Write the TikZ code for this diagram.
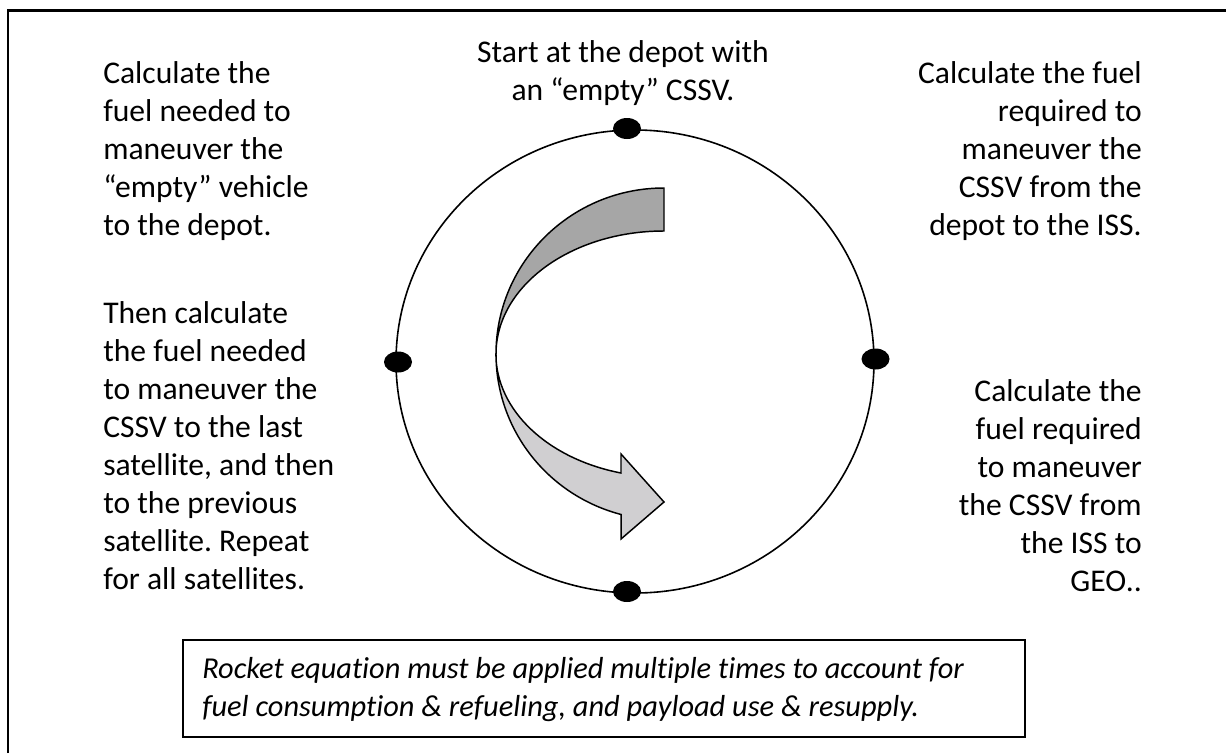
\documentclass[tikz,border=0pt]{standalone}
\usepackage{fontspec}
\setmainfont[Ligatures=NoCommon]{Carlito}
\usetikzlibrary{shapes.geometric}
\definecolor{darkband}{HTML}{A6A6A6}
\definecolor{lightband}{HTML}{D0CFD1}
\frenchspacing
\begin{document}
\begin{tikzpicture}[x=0.75pt,y=-0.75pt,
  txt/.style={inner sep=0pt, font=\fontsize{23.7}{28.5}\selectfont},
  dotnode/.style={ellipse, fill=black, minimum width=21pt, minimum height=15.75pt, inner sep=0pt},
  band/.style={draw=black, line width=1.1pt, line join=miter},
  frame/.style={draw=black, line width=1.6pt}]
\useasboundingbox (0,0) rectangle (1226,753);
% outer frame (top and left edges visible)
\draw[frame] (8,753) -- (8,10.5) -- (1226,10.5);
% orbit
\node[draw, line width=1.2pt, ellipse, minimum width=358.5pt, minimum height=347.25pt, inner sep=0pt] (orbit) at (635,361.5) {};
% dots
\node[dotnode] (dtop) at (627,128.5) {};
\node[dotnode] (dbottom) at (627,591.5) {};
\node[dotnode] (dleft) at (398,362) {};
\node[dotnode] (dright) at (875.5,359) {};
% curved arrow: upper (back) band
\path[band, fill=darkband] (664,188) arc[start angle=270, end angle=180, x radius=168, y radius=166]
  arc[start angle=180, end angle=270, x radius=168, y radius=123] -- cycle;
% lower band with head
\path[band, fill=lightband] (496,354) arc[start angle=180, end angle=104.8, x radius=168, y radius=166]
  -- (621,539) -- (664,502) -- (621,454) -- (621,473)
  arc[start angle=104.8, end angle=180, x radius=168, y radius=123] -- cycle;
% texts
\node[txt, anchor=base] (ttop) at (623,62) {\begin{tabular}[t]{@{}c@{}}Start at the depot with\\an “empty” CSSV.\end{tabular}};
\node[txt, anchor=base west] (tleft1) at (103,83) {\begin{tabular}[t]{@{}l@{}}Calculate the\\fuel needed to\\maneuver the\\“empty” vehicle\\to the depot.\end{tabular}};
\node[txt, anchor=base west] (tleft2) at (103,323) {\begin{tabular}[t]{@{}l@{}}Then calculate\\the fuel needed\\to maneuver the\\CSSV to the last\\satellite, and then\\to the previous\\satellite. Repeat\\for all satellites.\end{tabular}};
\node[txt, anchor=base east] (tright1) at (1142,83) {\begin{tabular}[t]{@{}r@{}}Calculate the fuel\\required to\\maneuver the\\CSSV from the\\depot to the ISS.\end{tabular}};
\node[txt, anchor=base east] (tright2) at (1142,401) {\begin{tabular}[t]{@{}r@{}}Calculate the\\fuel required\\to maneuver\\the CSSV from\\the ISS to\\GEO..\end{tabular}};
% bottom box
\node[frame, minimum width=631.5pt, minimum height=72.75pt, inner sep=0pt] (box) at (604,688.5) {};
\node[inner sep=0pt, anchor=base west, font=\fontsize{22.8}{28.5}\selectfont\itshape] (boxtext) at (202,678) {\begin{tabular}[t]{@{}l@{}}Rocket equation must be applied multiple times to account for\\fuel consumption \& refueling, and payload use \& resupply.\end{tabular}};
\end{tikzpicture}
\end{document}
